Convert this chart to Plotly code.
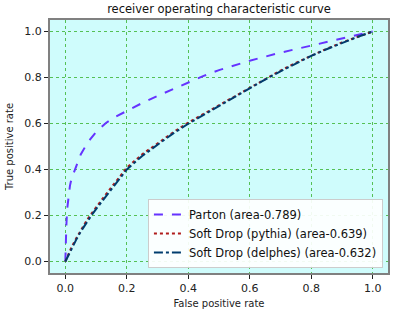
import plotly.graph_objects as go

# Data
parton_fpr = [0.0, 0.001, 0.003, 0.006, 0.01, 0.015, 0.02, 0.032, 0.04, 0.05, 0.065, 0.08, 0.1, 0.115, 0.132, 0.16, 0.2, 0.25, 0.3, 0.35, 0.4, 0.45, 0.5, 0.55, 0.6, 0.7, 0.8, 0.9, 0.95, 1.0]
parton_tpr = [0.0, 0.08, 0.15, 0.23, 0.29, 0.33, 0.36, 0.4, 0.43, 0.465, 0.5, 0.53, 0.563, 0.583, 0.602, 0.627, 0.655, 0.689, 0.72, 0.75, 0.779, 0.807, 0.832, 0.853, 0.873, 0.908, 0.939, 0.968, 0.984, 1.0]

pythia_fpr = [0.0, 0.01, 0.02, 0.035, 0.05, 0.07, 0.086, 0.1, 0.125, 0.15, 0.175, 0.2, 0.25, 0.3, 0.35, 0.4, 0.45, 0.5, 0.55, 0.6, 0.65, 0.7, 0.75, 0.8, 0.85, 0.9, 0.95, 1.0]
pythia_tpr = [0.0, 0.032, 0.062, 0.1, 0.137, 0.18, 0.21, 0.236, 0.28, 0.323, 0.365, 0.408, 0.466, 0.514, 0.561, 0.604, 0.642, 0.681, 0.719, 0.757, 0.794, 0.83, 0.864, 0.896, 0.925, 0.952, 0.977, 1.0]

delphes_fpr = [0.0, 0.01, 0.02, 0.035, 0.05, 0.07, 0.086, 0.1, 0.125, 0.15, 0.175, 0.2, 0.25, 0.3, 0.35, 0.4, 0.45, 0.5, 0.55, 0.6, 0.65, 0.7, 0.75, 0.8, 0.85, 0.9, 0.95, 1.0]
delphes_tpr = [0.0, 0.028, 0.056, 0.094, 0.13, 0.173, 0.203, 0.228, 0.272, 0.315, 0.357, 0.4, 0.459, 0.508, 0.556, 0.599, 0.638, 0.677, 0.716, 0.754, 0.791, 0.827, 0.861, 0.894, 0.923, 0.95, 0.976, 1.0]

series_names = ["Parton (area-0.789)", "Soft Drop (pythia) (area-0.639)", "Soft Drop (delphes) (area-0.632)"]
tick_vals = [0.0, 0.2, 0.4, 0.6, 0.8, 1.0]
tick_text = ["0.0", "0.2", "0.4", "0.6", "0.8", "1.0"]

font_family = "DejaVu Sans"

fig = go.Figure()
fig.add_trace(go.Scatter(x=parton_fpr, y=parton_tpr, mode="lines", name=series_names[0],
                         line=dict(color="#6633ff", width=2, dash="dash")))
fig.add_trace(go.Scatter(x=pythia_fpr, y=pythia_tpr, mode="lines", name=series_names[1],
                         line=dict(color="#b01c1c", width=2, dash="dot")))
fig.add_trace(go.Scatter(x=delphes_fpr, y=delphes_tpr, mode="lines", name=series_names[2],
                         line=dict(color="#003c6e", width=2, dash="dashdot")))

axis_common = dict(
    range=[-0.05, 1.05], tickvals=tick_vals, ticktext=tick_text,
    showgrid=True, gridcolor="#55c055", griddash="dot", gridwidth=0.6,
    zeroline=False, showline=True, linecolor="#808080", linewidth=2, mirror=True,
    ticks="outside", ticklen=4, tickcolor="#222222", automargin=False,
    tickfont=dict(family=font_family, size=11, color="#222222"),
)

fig.update_layout(
    width=399, height=316,
    margin=dict(l=50, r=11, t=20, b=43),
    paper_bgcolor="white", plot_bgcolor="#cffcfc",
    title=dict(text="receiver operating characteristic curve", x=0.5, xref="paper", xanchor="center",
               y=0.985, yanchor="top", font=dict(family=font_family, size=11.5, color="#111111")),
    xaxis=dict(axis_common, title=dict(text="False positive rate", standoff=6,
                                      font=dict(family=font_family, size=10, color="#222222"))),
    yaxis=dict(axis_common, title=dict(text="True positive rate", standoff=9,
                                      font=dict(family=font_family, size=10, color="#222222"))),
    legend=dict(x=0.985, y=0.02, xanchor="right", yanchor="bottom",
                bgcolor="rgba(255,255,255,0.92)", bordercolor="#cccccc", borderwidth=1,
                font=dict(family=font_family, size=11.5, color="#111111"),
                itemwidth=30, tracegroupgap=0),
    showlegend=True,
)

fig.write_html("out.html", config={"displayModeBar": False},
               post_script="document.body.style.margin='0px';")
